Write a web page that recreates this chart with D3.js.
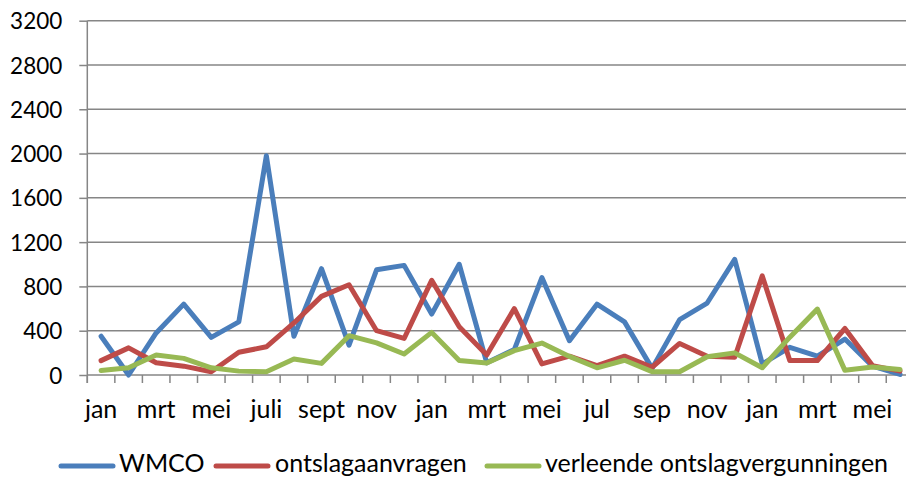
<!DOCTYPE html>
<html><head><meta charset="utf-8">
<script src="https://cdn.jsdelivr.net/npm/d3@7"></script>
<style>
html,body{margin:0;padding:0;background:#fff;overflow:hidden;}
text{font-family:Lato,"Open Sans",sans-serif;fill:#000;}
</style></head>
<body><svg id="chart" width="906" height="481"></svg>
<script>
const months = ["jan","feb","mrt","apr","mei","jun","jul","aug","sep","okt","nov","dec",
                "jan","feb","mrt","apr","mei","jun","jul","aug","sep","okt","nov","dec",
                "jan","feb","mrt","apr","mei","jun"];
const tickLabels = ["jan","mrt","mei","juli","sept","nov","jan","mrt","mei","jul","sep","nov","jan","mrt","mei"];
const yTicks = [0,400,800,1200,1600,2000,2400,2800,3200];
const seriesNames = ["WMCO","ontslagaanvragen","verleende ontslagvergunningen"];
const wmco = [350,0,380,640,340,480,1980,350,960,270,950,990,550,1000,110,230,880,310,640,480,60,500,650,1045,100,250,170,325,80,5];
const aanvragen = [130,245,110,80,30,205,255,470,710,815,400,330,855,435,180,600,100,170,85,170,70,285,170,160,895,130,130,420,85,35];
const vergunningen = [40,65,180,150,65,35,30,145,105,355,290,190,385,130,108,220,288,168,65,133,30,30,165,200,65,342,595,42,72,50];
const colors = ["#4a7ebb","#be4b48","#98b954"];

(function(){
const svg = d3.select("#chart");
const mLeft = 87.3, mTop = 20.7, mBottom = 375, step = 27.55;
const mRight = mLeft + step * months.length;
const x = d3.scaleBand().domain(d3.range(months.length)).range([mLeft, mRight]).paddingInner(0).paddingOuter(0);
const y = d3.scaleLinear().domain([0,3200]).range([mBottom, mTop]);

// gridlines
svg.append("g").selectAll("line").data(yTicks.filter(d=>d>0)).join("line")
  .attr("x1", mLeft).attr("x2", 906).attr("y1", d=>y(d)).attr("y2", d=>y(d))
  .attr("stroke","#868686").attr("stroke-width",1.5);

// y axis
const yAxis = svg.append("g").attr("transform",`translate(${mLeft},0)`)
  .call(d3.axisLeft(y).tickValues(yTicks).tickSize(8).tickPadding(17).tickFormat(d3.format("d")));
yAxis.select(".domain").attr("stroke","#868686").attr("stroke-width",1.5).attr("d",`M0,${mTop}V${mBottom+8}`);
yAxis.selectAll(".tick line").attr("stroke","#868686").attr("stroke-width",1.5);
yAxis.selectAll("text").style("font-size","22.5px").attr("dy","0.36em");

// x axis
const xAxis = svg.append("g").attr("transform",`translate(0,${mBottom})`)
  .call(d3.axisBottom(x).tickSize(0).tickFormat(i => i % 2 === 0 ? tickLabels[i/2] : ""));
xAxis.select(".domain").attr("stroke","#868686").attr("stroke-width",1.5).attr("d",`M${mLeft},0H906`);
xAxis.selectAll(".tick line").remove();
xAxis.selectAll("text").style("font-size","25px").attr("y",43).attr("dy","0");
// boundary tick marks
svg.append("g").selectAll("line").data(d3.range(months.length+1)).join("line")
  .attr("x1", i => mLeft + i*step).attr("x2", i => mLeft + i*step)
  .attr("y1", mBottom).attr("y2", mBottom+8)
  .attr("stroke","#868686").attr("stroke-width",1.5);

const line = d3.line().x((d,i)=>x(i)+x.bandwidth()/2).y(d=>y(d));
[wmco, aanvragen, vergunningen].forEach((s,k)=>{
  svg.append("path").datum(s).attr("d", line).attr("fill","none")
    .attr("stroke", colors[k]).attr("stroke-width",5).attr("stroke-linejoin","round").attr("stroke-linecap","round");
});

// legend
const legendPos = [{lx:61, tx:119},{lx:216, tx:275},{lx:487, tx:545}];
const lg = svg.append("g");
seriesNames.forEach((n,k)=>{
  lg.append("line").attr("x1",legendPos[k].lx).attr("x2",legendPos[k].lx+52)
    .attr("y1",466).attr("y2",466).attr("stroke",colors[k]).attr("stroke-width",5).attr("stroke-linecap","round");
  lg.append("text").attr("x",legendPos[k].tx).attr("y",472)
    .style("font-size","25px").text(n);
});
})();
</script></body></html>
